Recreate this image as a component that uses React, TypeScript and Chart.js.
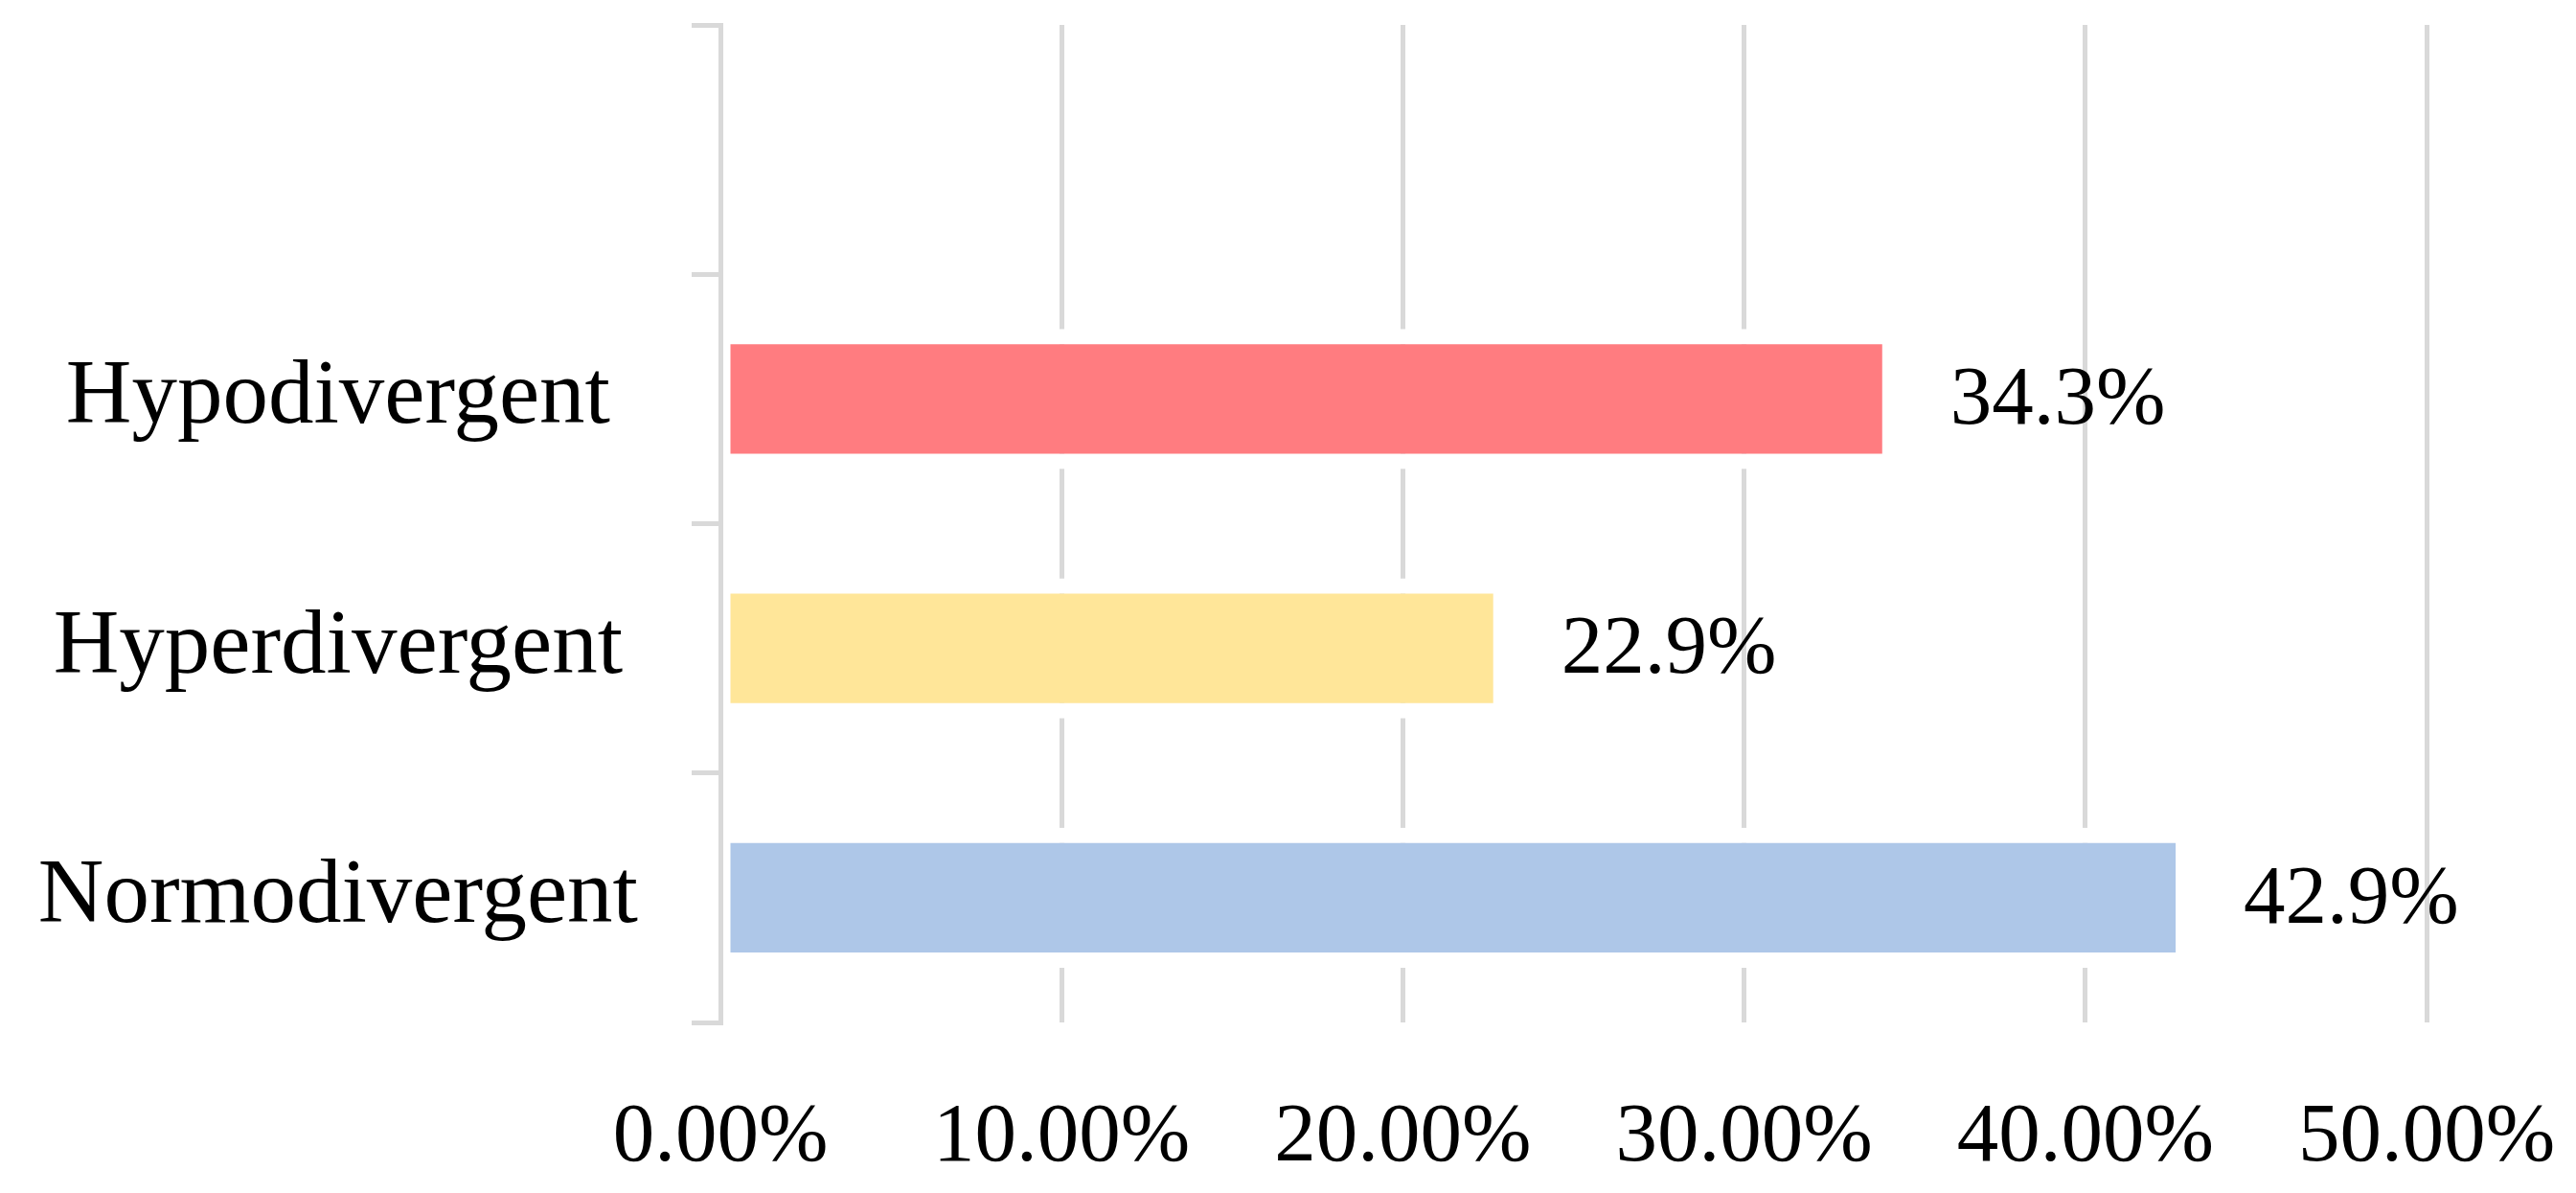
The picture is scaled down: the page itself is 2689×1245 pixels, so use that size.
import React, { useEffect, useRef } from 'react';
import { Chart, registerables } from 'chart.js';

Chart.register(...registerables);

const categories = ['', 'Hypodivergent', 'Hyperdivergent', 'Normodivergent'];
const values: (number | null)[] = [null, 34.3, 22.9, 42.9];
const barColors = ['rgba(0,0,0,0)', '#FF7C80', '#FFE699', '#AEC7E8'];
const xTickValues = [0, 10, 20, 30, 40, 50];

export default function App() {
  const ref = useRef<HTMLCanvasElement>(null);

  useEffect(() => {
    document.body.style.margin = '0';
    const labelPlugin = {
      id: 'valueLabels',
      afterDatasetsDraw(chart: any) {
        const ctx = chart.ctx;
        const meta = chart.getDatasetMeta(0);
        ctx.save();
        ctx.font = '87px "Liberation Serif"';
        ctx.fillStyle = '#000000';
        ctx.textAlign = 'left';
        ctx.textBaseline = 'middle';
        meta.data.forEach((el: any, i: number) => {
          const v = values[i];
          if (v == null) return;
          ctx.fillText(`${v.toFixed(1)}%`, el.x + 62, el.y + 3);
        });
        ctx.restore();
      },
    };

    const chart = new Chart(ref.current as HTMLCanvasElement, {
      type: 'bar',
      data: {
        labels: categories,
        datasets: [
          {
            data: values,
            backgroundColor: barColors,
            borderColor: '#ffffff',
            borderWidth: { top: 16, bottom: 16, left: 8, right: 9 },
            borderSkipped: false,
            barPercentage: 0.5615,
            categoryPercentage: 1,
          } as any,
        ],
      },
      options: {
        indexAxis: 'y',
        animation: false,
        responsive: true,
        maintainAspectRatio: false,
        devicePixelRatio: 1,
        layout: { padding: { top: 26, right: 156, bottom: 0, left: 0 } },
        plugins: { legend: { display: false }, tooltip: { enabled: false } },
        scales: {
          x: {
            type: 'linear',
            min: 0,
            max: 50,
            afterBuildTicks: (s: any) => {
              s.ticks = xTickValues.map((v) => ({ value: v }));
            },
            ticks: {
              callback: (v: any) => `${Number(v).toFixed(2)}%`,
              font: { family: 'Liberation Serif', size: 87 },
              color: '#000000',
              padding: 69,
              maxRotation: 0,
              autoSkip: false,
            },
            grid: { color: '#D9D9D9', lineWidth: 5, drawTicks: false },
            border: { display: false },
            afterFit: (s: any) => {
              s.height = 178;
              s.paddingLeft = 0;
              s.paddingRight = 0;
            },
          } as any,
          y: {
            type: 'category',
            offset: true,
            grid: {
              offset: true,
              drawOnChartArea: false,
              drawTicks: true,
              tickLength: 30,
              color: '#D9D9D9',
              lineWidth: 5,
            },
            border: { display: true, color: '#D9D9D9', width: 5, z: 1 },
            ticks: {
              font: { family: 'Liberation Serif', size: 95 },
              color: '#000000',
              padding: 56,
              crossAlign: 'center',
              autoSkip: false,
            },
            afterFit: (s: any) => {
              s.width = 752;
              s.paddingTop = 0;
              s.paddingBottom = 0;
            },
          } as any,
        },
      },
      plugins: [labelPlugin],
    });
    return () => chart.destroy();
  }, []);

  return (
    <div style={{ position: 'fixed', left: 0, top: 0, width: '2689px', height: '1245px', background: '#fff' }}>
      <canvas ref={ref} />
    </div>
  );
}
